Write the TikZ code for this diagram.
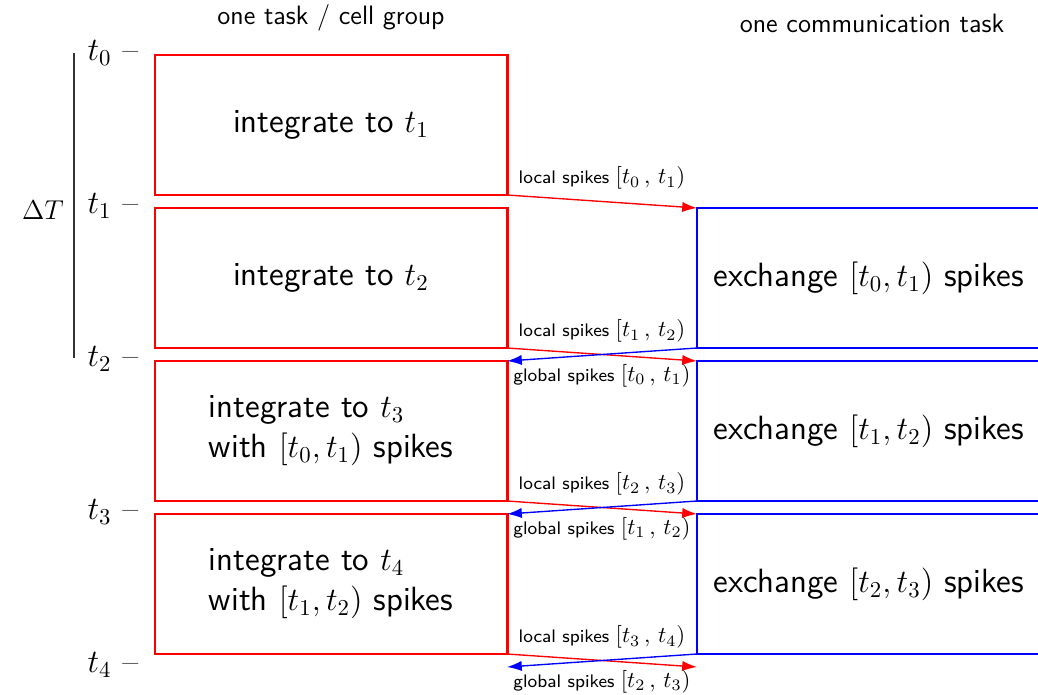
\documentclass[tikz,border=0pt]{standalone}
\usetikzlibrary{arrows.meta}
\begin{document}
\begin{tikzpicture}[x=0.44pt,y=-0.44pt,
  boxfont/.style={font=\sffamily\fontsize{14.8}{17.6}\selectfont},
  redbox/.style={draw=red,line width=1.3pt,minimum width=154.9pt,minimum height=61.6pt,anchor=north west,inner sep=0pt,outer sep=0pt,boxfont,align=left},
  bluebox/.style={draw=blue,line width=1.3pt,minimum width=151pt,minimum height=61.6pt,anchor=north west,inner sep=0pt,outer sep=0pt,boxfont,align=left},
  localarrow/.style={draw=red,line width=0.6pt,-{Latex[length=6.5pt,width=4.5pt]}},
  globalarrow/.style={draw=blue,line width=0.6pt,-{Latex[length=6.5pt,width=4.5pt]}},
  lbl/.style={font=\sffamily\footnotesize,inner sep=1pt},
  tick/.style={font=\Large,inner sep=0pt},
  head/.style={font=\sffamily\fontsize{11.7}{14}\selectfont,inner sep=0pt}]
\useasboundingbox (0,0) rectangle (1038,695);
\clip (0,0) rectangle (1038,695);
% headers
\node[head] (h1) at (331,18) {one task / cell group};
\node[head] (h2) at (872,23) {one communication task};
% time ticks
\node[tick] (t0) at (113,53) {$t_0$ --};
\node[tick] (t1) at (113,206) {$t_1$ --};
\node[tick] (t2) at (113,359) {$t_2$ --};
\node[tick] (t3) at (113,512) {$t_3$ --};
\node[tick] (t4) at (113,665) {$t_4$ --};
\coordinate (dtop) at (74,53);
\coordinate (dbot) at (74,358);
\draw[line width=0.6pt,black!80] (dtop) -- (dbot);
\node[tick,font=\fontsize{13}{15}\selectfont] (dT) at (43,210) {$\Delta T$};
% red boxes
\node[redbox] (r0) at (155,55) {integrate to $t_1$};
\node[redbox] (r1) at (155,208) {integrate to $t_2$};
\node[redbox] (r2) at (155,361) {integrate to $t_3$\\with $[t_0,t_1)$ spikes};
\node[redbox] (r3) at (155,514) {integrate to $t_4$\\with $[t_1,t_2)$ spikes};
% blue boxes
\node[bluebox] (b1) at (697,208) {exchange $[t_0,t_1)$ spikes};
\node[bluebox] (b2) at (697,361) {exchange $[t_1,t_2)$ spikes};
\node[bluebox] (b3) at (697,514) {exchange $[t_2,t_3)$ spikes};
\coordinate (b4) at (697,667);
\coordinate (r4) at (507,667);
% local spikes
\draw[localarrow] (r0.south east) -- node[lbl,above=4pt] {local spikes {\normalsize$[t_0\,,\,t_1)$}} (b1.north west);
\draw[localarrow] (r1.south east) -- node[lbl,above=4pt] {local spikes {\normalsize$[t_1\,,\,t_2)$}} (b2.north west);
\draw[localarrow] (r2.south east) -- node[lbl,above=4pt] {local spikes {\normalsize$[t_2\,,\,t_3)$}} (b3.north west);
\draw[localarrow] (r3.south east) -- node[lbl,above=4pt] {local spikes {\normalsize$[t_3\,,\,t_4)$}} (b4);
% global spikes
\draw[globalarrow] (b1.south west) -- node[lbl,below=3pt] {global spikes {\normalsize$[t_0\,,\,t_1)$}} (r2.north east);
\draw[globalarrow] (b2.south west) -- node[lbl,below=3pt] {global spikes {\normalsize$[t_1\,,\,t_2)$}} (r3.north east);
\draw[globalarrow] (b3.south west) -- node[lbl,below=3pt] {global spikes {\normalsize$[t_2\,,\,t_3)$}} (r4);
\end{tikzpicture}
\end{document}
